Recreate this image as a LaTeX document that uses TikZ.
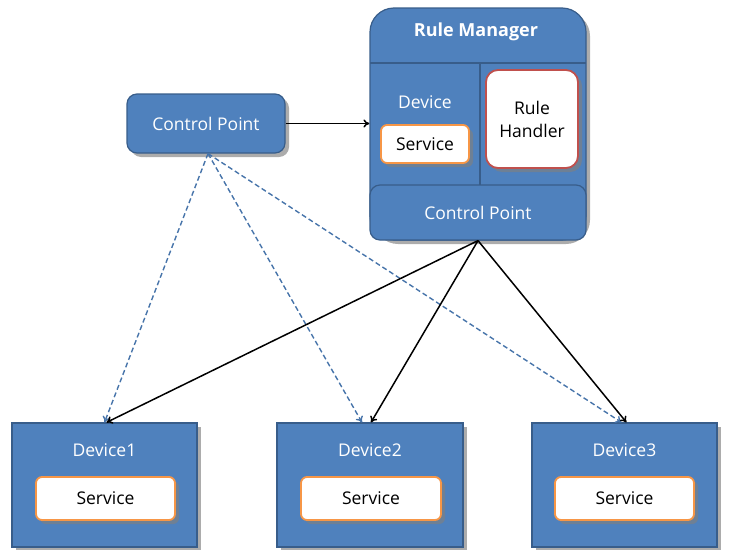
\documentclass[tikz,border=0pt]{standalone}
\usepackage{fontspec}
\setmainfont{Open Sans}
\usetikzlibrary{arrows.meta,shadows}
\definecolor{bfill}{HTML}{4F81BD}
\definecolor{bline}{HTML}{385D8A}
\definecolor{sorange}{HTML}{F79646}
\definecolor{rred}{HTML}{C0504D}
\tikzset{
  shad/.style={drop shadow={shadow xshift=4pt,shadow yshift=-4pt,fill=black!50,opacity=0.65}},
  bluebox/.style={draw=bline,fill=bfill,line width=1.2pt,text=white,font=\fontsize{17.5}{21}\selectfont,shad},
  svcbox/.style={draw=sorange,fill=white,line width=1.8pt,rounded corners=6pt,text=black,font=\fontsize{17.5}{21}\selectfont,shad},
  lbl/.style={text=white,font=\fontsize{17.5}{21}\selectfont},
  solidarr/.style={-{To[length=6pt,width=8pt]},line width=1.5pt,black},
  dasharr/.style={-{To[length=6pt,width=8pt]},line width=1.4pt,draw=bfill!90!black,dash pattern=on 5pt off 3pt},
}
\begin{document}
\begin{tikzpicture}[x=1pt,y=-1pt]
\useasboundingbox (0,0) rectangle (733,549);
% Rule Manager
\node[bluebox,rounded corners=24pt,minimum width=216pt,minimum height=232pt] (rm) at (478,124) {};
\node[lbl,font=\fontsize{18}{21}\selectfont\bfseries] (rmt) at (476,32) {Rule Manager};
\draw[bline,line width=1.2pt] (370,63) -- (586,63);
\draw[bline,line width=1.2pt] (480,63) -- (480,185);
\node[lbl] (rmdev) at (425,102) {Device};
\node[svcbox,minimum width=88pt,minimum height=38pt] (rmsvc) at (425,144) {Service};
\node[draw=rred,fill=white,line width=1.8pt,rounded corners=12pt,minimum width=92pt,minimum height=98pt,align=center,font=\fontsize{17.5}{23}\selectfont,shad] (rh) at (532,119) {Rule\\Handler};
\node[draw=bline,fill=bfill,line width=1.2pt,rounded corners=10pt,minimum width=216pt,minimum height=55pt,lbl] (rmcp) at (478,212.5) {Control Point};
% Left control point
\node[bluebox,rounded corners=10pt,minimum width=158pt,minimum height=59pt] (cp) at (206,123.5) {Control Point};
% Devices
\node[bluebox,minimum width=185pt,minimum height=124pt] (d1) at (104.5,485) {};
\node[lbl] (d1t) at (104.5,450) {Device1};
\node[svcbox,minimum width=139pt,minimum height=43pt] (s1) at (105.5,498.5) {Service};
\node[bluebox,minimum width=186pt,minimum height=124pt] (d2) at (370,485) {};
\node[lbl] (d2t) at (370,450) {Device2};
\node[svcbox,minimum width=140pt,minimum height=43pt] (s2) at (371,498.5) {Service};
\node[bluebox,minimum width=185pt,minimum height=124pt] (d3) at (624.5,485) {};
\node[lbl] (d3t) at (624.5,450) {Device3};
\node[svcbox,minimum width=139pt,minimum height=43pt] (s3) at (624.5,498.5) {Service};
% connectors
\draw[solidarr] (cp.east) -- (cp.east -| rm.west);
\draw[dasharr] ([xshift=2pt]cp.south) -- ([xshift=0pt]d1.north);
\draw[dasharr] ([xshift=2pt]cp.south) -- ([xshift=-8pt]d2.north);
\draw[dasharr] ([xshift=2pt]cp.south) -- ([xshift=-3pt]d3.north);
\draw[solidarr] (rm.south) -- ([xshift=2pt]d1.north);
\draw[solidarr] (rm.south) -- ([xshift=1pt]d2.north);
\draw[solidarr] (rm.south) -- ([xshift=2pt]d3.north);
\end{tikzpicture}
\end{document}
